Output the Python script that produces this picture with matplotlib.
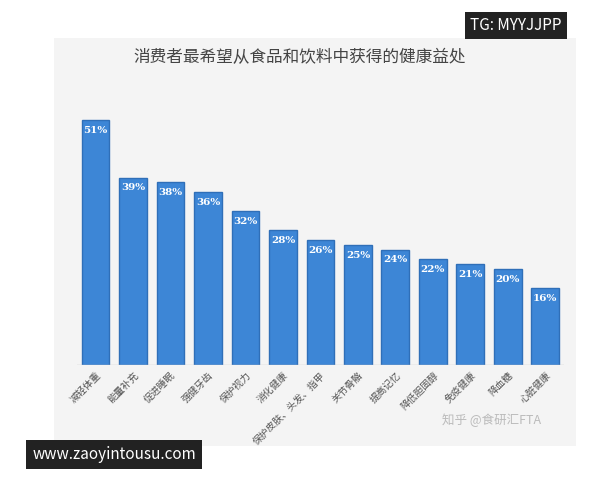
import matplotlib.pyplot as plt
import numpy as np

plt.rcParams['font.family'] = ['Noto Sans CJK SC', 'DejaVu Sans']

categories = ["减轻体重", "能量补充", "促进睡眠", "强健牙齿", "保护视力", "消化健康",
              "保护皮肤、头发、指甲", "关节骨骼", "提高记忆", "降低胆固醇", "免疫健康",
              "降血糖", "心脏健康"]
values = [51, 39, 38, 36, 32, 28, 26, 25, 24, 22, 21, 20, 16]

fig = plt.figure(figsize=(6, 4.8), dpi=100)
fig.patch.set_facecolor("white")
# light grey panel behind the chart
fig.patches.append(plt.Rectangle((0.09, 0.07), 0.87, 0.85, transform=fig.transFigure,
                                 facecolor="#f4f4f4", edgecolor="none", zorder=-1))
ax = fig.add_axes([0.128, 0.24, 0.812, 0.56])
ax.set_facecolor("none")
x = np.arange(len(values))
ax.bar(x, values, width=0.74, color="#3d86d6", edgecolor="#2f6fb8")
for xi, v in zip(x, values):
    ax.text(xi, v - 1.2, f"{v}%", ha="center", va="top", color="white",
            fontsize=7.5, fontweight="bold", family="DejaVu Serif")
ax.set_xlim(-0.5, len(values) - 0.5)
ax.set_ylim(0, 56)
ax.set_yticks([])
ax.set_xticks(x)
ax.set_xticklabels(categories, rotation=45, ha="right", rotation_mode="anchor",
                   fontsize=7, color="#555555")
ax.tick_params(axis="x", length=0, pad=4)
for s in ax.spines.values():
    s.set_visible(False)
ax.axhline(0, color="#c8c8c8", lw=1)

fig.text(0.50, 0.88, "消费者最希望从食品和饮料中获得的健康益处", ha="center", va="center",
         fontsize=12, color="#444444")
fig.text(0.86, 0.947, "TG: MYYJJPP", ha="center", va="center", fontsize=11, color="white",
         bbox=dict(boxstyle="square,pad=0.35", facecolor="#222222", edgecolor="none"))
fig.text(0.19, 0.053, "www.zaoyintousu.com", ha="center", va="center", fontsize=11,
         color="white", bbox=dict(boxstyle="square,pad=0.4", facecolor="#222222", edgecolor="none"))
fig.text(0.82, 0.125, "知乎 @食研汇FTA", ha="center", va="center", fontsize=9, color="#bbbbbb")

fig.savefig("out.png", dpi=100, facecolor="white")
